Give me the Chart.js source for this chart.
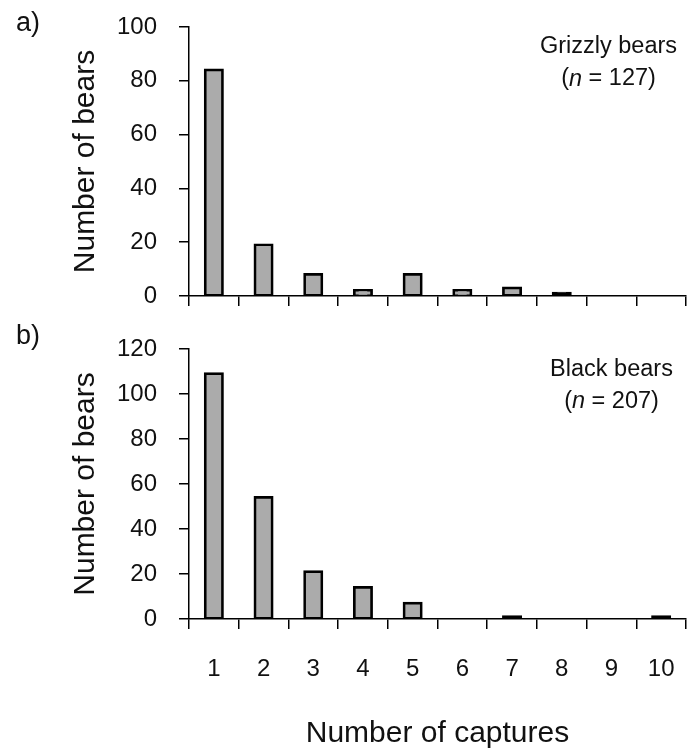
<!DOCTYPE html>
<html><head><meta charset="utf-8">
<script src="https://cdn.jsdelivr.net/npm/chart.js@4"></script>
<style>
html,body{margin:0;padding:0;background:#fff;width:691px;height:750px;overflow:hidden}
#c1{position:absolute;left:0;top:0}
#c2{position:absolute;left:0;top:315px}
</style>
</head><body>
<canvas id="c1" width="691" height="315"></canvas>
<canvas id="c2" width="691" height="435"></canvas>
<script>
// ---- data ----
const captureLabels = ['1','2','3','4','5','6','7','8','9','10'];
const grizzlyCounts = [84, 19, 8, 2, 8, 2, 3, 1, 0, 0];
const blackCounts   = [109, 54, 21, 14, 7, 0, 1, 0, 0, 1];
const grizzlyTicks = { min: 0, max: 100, step: 20 };
const blackTicks   = { min: 0, max: 120, step: 20 };
const grizzlyTitle = 'Grizzly bears', grizzlyN = 127;
const blackTitle = 'Black bears', blackN = 207;
const yTitle = 'Number of bears';
const xTitle = 'Number of captures';

const FONT = '"Liberation Sans", Arial, Helvetica, sans-serif';
const INK = '#111';
const BAR_FILL = '#ababab';

function panelText(letter, species, n, dx, dy1, dy2, letterY) {
  return {
    id: 'panelText',
    afterDraw(chart) {
      const ctx = chart.ctx, a = chart.chartArea;
      ctx.save();
      ctx.fillStyle = INK;
      ctx.textBaseline = 'middle';
      ctx.font = '27px ' + FONT;
      ctx.textAlign = 'left';
      ctx.fillText(letter, 16, letterY);
      const cx = a.right - dx;
      const fN = '23.5px ' + FONT, fI = 'italic 23.5px ' + FONT;
      ctx.font = fN;
      ctx.textAlign = 'center';
      ctx.fillText(species, cx, a.top + dy1);
      const y = a.top + dy2;
      const p1 = '(', p2 = 'n', p3 = ' = ' + n + ')';
      ctx.font = fN; const w1 = ctx.measureText(p1).width, w3 = ctx.measureText(p3).width;
      ctx.font = fI; const w2 = ctx.measureText(p2).width;
      let x = cx - (w1 + w2 + w3) / 2;
      ctx.textAlign = 'left';
      ctx.font = fN; ctx.fillText(p1, x, y); x += w1;
      ctx.font = fI; ctx.fillText(p2, x, y); x += w2;
      ctx.font = fN; ctx.fillText(p3, x, y);
      ctx.restore();
    }
  };
}

function makeChart(canvasId, values, yt, showX, padTop, xHeight, plugin) {
  return new Chart(document.getElementById(canvasId), {
    type: 'bar',
    data: {
      labels: captureLabels,
      datasets: [{
        data: values,
        // a one-bear bar is thinner than its outline, so it shows as solid black
        backgroundColor: (c) => (c.raw <= 1 ? '#000' : BAR_FILL),
        borderColor: '#000',
        borderWidth: (c) => (c.raw === 0 ? 0 : 2.7),
        borderSkipped: false,
        inflateAmount: (c) => (c.raw === 0 ? 0 : 1.5),
        barPercentage: 0.342,
        categoryPercentage: 1.0
      }]
    },
    options: {
      responsive: false,
      animation: false,
      layout: { padding: { top: padTop, right: 5, left: 0, bottom: 0 } },
      plugins: { legend: { display: false }, tooltip: { enabled: false } },
      scales: {
        x: {
          offset: true,
          grid: { display: true, offset: true, drawOnChartArea: false, drawTicks: true, tickLength: 10, color: '#000', lineWidth: 1.5 },
          border: { display: true, color: '#000', width: 1.5 },
          ticks: { display: showX, color: INK, font: { family: FONT, size: 24 }, padding: 26, maxRotation: 0, autoSkip: false },
          title: { display: showX, text: xTitle, color: INK, font: { family: FONT, size: 30, lineHeight: 1.0 }, padding: { top: 0, bottom: 1 } },
          afterFit: (s) => { s.height = xHeight; s.paddingLeft = 0; s.paddingRight = 0; }
        },
        y: {
          min: yt.min, max: yt.max,
          grid: { display: true, drawOnChartArea: false, drawTicks: true, tickLength: 10, color: '#000', lineWidth: 1.5 },
          border: { display: true, color: '#000', width: 1.5 },
          ticks: { stepSize: yt.step, color: INK, font: { family: FONT, size: 24 }, padding: 22 },
          title: { display: true, text: yTitle, color: INK, font: { family: FONT, size: 30, lineHeight: 1.0 }, padding: { top: 71, bottom: 0 } },
          afterFit: (s) => { s.width = 189; s.paddingTop = 0; s.paddingBottom = 0; }
        }
      }
    },
    plugins: [plugin]
  });
}

makeChart('c1', grizzlyCounts, grizzlyTicks, false, 27, 19,
  panelText('a)', grizzlyTitle, grizzlyN, 77.5, 20, 52, 24));
makeChart('c2', blackCounts, blackTicks, true, 34, 131,
  panelText('b)', blackTitle, blackN, 74.5, 21, 52.5, 22));
</script>
</body></html>
